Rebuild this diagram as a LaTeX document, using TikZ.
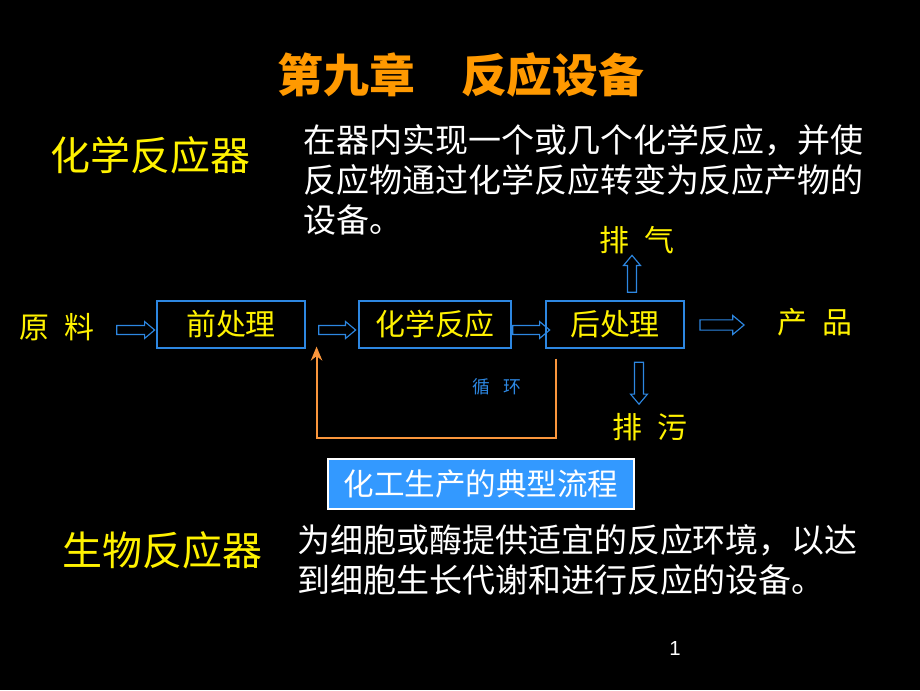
\documentclass[tikz,border=0pt]{standalone}
\usepackage{fontspec}
\setmainfont{Noto Sans CJK SC}
\newfontfamily\numfont{Liberation Sans}
\usetikzlibrary{shapes.arrows,arrows.meta}
\definecolor{slideorange}{RGB}{255,153,0}
\definecolor{flowblue}{RGB}{45,135,225}
\definecolor{loopcol}{RGB}{250,150,60}
\definecolor{capblue}{RGB}{51,153,255}

\begin{document}
\begin{tikzpicture}[x=0.0276cm, y=-0.0276cm,
    txt/.style={inner sep=0, text=white, font=\fontsize{25.9}{31.4}\selectfont, align=left, anchor=west},
    lbl/.style={inner sep=0, text=yellow, font=\fontsize{23.5}{28}\selectfont},
    step box/.style={draw=flowblue, line width=0.9pt, minimum height=36.9pt, inner sep=0, text=yellow, font=\fontsize{23.5}{28}\selectfont},
    hollow/.style={single arrow, draw=flowblue, line width=0.9pt, inner xsep=0, inner ysep=3.1pt, single arrow head extend=3.1pt, single arrow tip angle=80}]
    \fill[black] (0,0) rectangle (920,690);
    \useasboundingbox (0,0) rectangle (920,690);

    \node[inner sep=0, text=slideorange, font=\fontsize{36}{42}\selectfont\bfseries] (title) at (461,75) {第九章\quad 反应设备};
    \node[inner sep=0, text=yellow, font=\fontsize{31.4}{38}\selectfont, anchor=west] (chem) at (50,155) {化学反应器};
    \node[txt] (chemdef) at (303,180) {在器内实现一个或几个化学反应，并使\\反应物通过化学反应转变为反应产物的\\设备。};

    \node[lbl] (raw) at (57,327) {原\hspace{0.5em}料};
    \node[step box, minimum width=116.2pt] (pre) at (231,324.5) {前处理};
    \node[step box, minimum width=119.4pt] (react) at (435,324.5) {化学反应};
    \node[step box, minimum width=108.4pt] (post) at (615,324.5) {后处理};
    \node[lbl] (prod) at (815,322) {产\hspace{0.5em}品};
    \node[lbl] (gas) at (637,240) {排\hspace{0.5em}气};
    \node[lbl] (waste) at (650,427) {排\hspace{0.5em}污};

    \node[hollow, minimum height=29.8pt] (a1) at (133,330) {};
    \node[hollow, minimum height=29pt] (a2) at (334.5,330) {};
    \node[hollow, minimum height=29pt] (a3) at (528.5,330) {};
    \node[hollow, minimum height=34.6pt, inner ysep=3.6pt, single arrow head extend=3.4pt] (a4) at (719,325) {};
    \node[hollow, minimum height=29pt, rotate=90] (up) at (632,276.5) {};
    \node[hollow, minimum height=33pt, rotate=-90] (down) at (639,380.5) {};

    \draw[loopcol, line width=1.6pt, -{Stealth[length=11pt, width=9pt, inset=3.5pt]}]
        ([shift={(11,10)}]post.south west) -- ++(0,79) -| ([shift={(11,-2)}]pre.south east);
    \node[inner sep=0, text=flowblue, font=\fontsize{14}{17}\selectfont] (cycle) at (497,387) {循\hspace{0.7em}环};

    \node[draw=white, line width=1.6pt, fill=capblue, minimum width=240pt, minimum height=39.3pt, inner sep=0,
        text=white, font=\fontsize{24}{28}\selectfont] (caption) at (481,484) {化工生产的典型流程};

    \node[inner sep=0, text=yellow, font=\fontsize{31.4}{38}\selectfont, anchor=west] (bio) at (62,550) {生物反应器};
    \node[txt] (biodef) at (297,560) {为细胞或酶提供适宜的反应环境，以达\\到细胞生长代谢和进行反应的设备。};

    \node[inner sep=0, text=white, font=\numfont\fontsize{16}{19}\selectfont] (page) at (675,648) {1};
\end{tikzpicture}
\end{document}
